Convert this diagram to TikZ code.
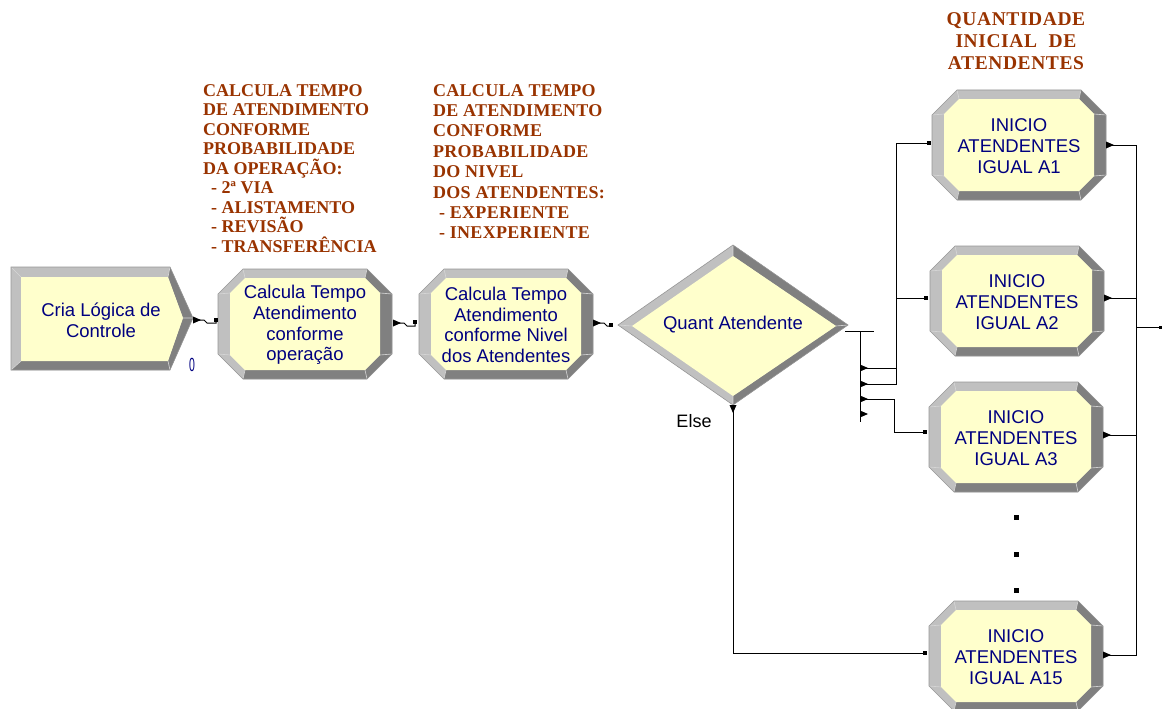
\documentclass[tikz,border=0pt]{standalone}
\usepackage{fontspec}
\setmainfont{Liberation Serif}
\newfontfamily\blockfont{Liberation Sans}
\newfontfamily\headfont[LetterSpace=3]{Liberation Serif}
\newfontfamily\notefont[LetterSpace=1.5]{Liberation Serif}
\usetikzlibrary{calc}

\definecolor{bevlight}{RGB}{192,192,192}
\definecolor{bevdark}{RGB}{128,128,128}
\definecolor{bevline}{RGB}{215,215,215}
\definecolor{bevedge}{RGB}{150,150,150}
\definecolor{blockfill}{RGB}{255,255,204}
\definecolor{navy}{RGB}{0,0,128}
\definecolor{rust}{RGB}{153,51,0}

\tikzset{
  blocktext/.style={font=\blockfont\fontsize{18.5}{20.7}\selectfont, text=navy, align=center, inner sep=0pt},
  note/.style={font=\bfseries\fontsize{18}{19.5}\selectfont, text=rust, align=left, inner sep=0pt, anchor=north west},
  conn/.style={draw=black, line width=1pt},
  facet/.style={draw=bevline, line width=0.6pt},
}

% exit point: small filled triangle pointing right
\newcommand\exitmark[1]{\fill (#1) -- ++(0,-3.5) -- ++(8,3.5) -- ++(-8,3.5) -- cycle;}
% entry point: small filled square
\newcommand\entrymark[1]{\fill ($(#1)+(-2,-2)$) rectangle ++(4,4);}
% straight link between two consecutive modules
\newcommand\joinright[2]{\exitmark{#1}\draw[conn] (#1) -- ++(11,0) -- ++(3,3) -| (#2);\entrymark{#2}}

% bevelled octagonal module (process / assign)
\newcommand\octblock[4]{%
  \begin{scope}[shift={(#2,#3)}]
    \fill[bevlight] (-87,-30) -- (-62,-55) -- (62,-55) -- (87,-30) -- (87,30) -- (62,55) -- (-62,55) -- (-87,30) -- cycle;
    \fill[bevdark] (62,-55) -- (87,-30) -- (87,30) -- (62,55) -- (-62,55)
                   -- (-60,46) -- (60,46) -- (75,31) -- (75,-31) -- (60,-46) -- cycle;
    \draw[facet] (-87,-30) -- (-75,-31) (-62,-55) -- (-60,-46) (62,-55) -- (60,-46) (87,-30) -- (75,-31)
                 (87,30) -- (75,31) (62,55) -- (60,46) (-62,55) -- (-60,46) (-87,30) -- (-75,31);
    \draw[bevedge, line width=0.6pt] (-87,-30) -- (-62,-55) -- (62,-55) -- (87,-30) -- (87,30) -- (62,55) -- (-62,55) -- (-87,30) -- cycle;
    \fill[blockfill] (-75,-31) -- (-60,-46) -- (60,-46) -- (75,-31) -- (75,31) -- (60,46) -- (-60,46) -- (-75,31) -- cycle;
  \end{scope}
  \node[blocktext] (#1) at (#2,#3+1) {#4};
}

\begin{document}
\begin{tikzpicture}[x=1pt, y=-1pt]
\useasboundingbox (0,0) rectangle (1165,709);

% ---------- create module ----------
\fill[bevlight] (11,267) -- (170,267) -- (193,318) -- (170,370) -- (11,370) -- cycle;
\fill[bevdark] (170,267) -- (193,318) -- (170,370) -- (11,370) -- (21,361) -- (168,361) -- (183,318) -- (168,277) -- cycle;
\draw[facet] (11,267) -- (21,277) (170,267) -- (168,277) (193,318) -- (183,318) (170,370) -- (168,361) (11,370) -- (21,361);
\draw[bevedge, line width=0.6pt] (11,267) -- (170,267) -- (193,318) -- (170,370) -- (11,370) -- cycle;
\fill[blockfill] (21,277) -- (168,277) -- (183,318) -- (168,361) -- (21,361) -- cycle;
\node[blocktext] (cria) at (101,320) {Cria Lógica de\\Controle};
\node[font=\blockfont\fontsize{19}{19}\selectfont, text=navy, inner sep=0pt] (cria-count) at (192,365) {\scalebox{0.55}[1]{0}};

% ---------- assign modules ----------
\octblock{calcop}{305}{324}{Calcula Tempo\\Atendimento\\conforme\\operação}
\octblock{calcniv}{506}{324}{Calcula Tempo\\Atendimento\\conforme Nivel\\dos Atendentes}

% ---------- decide module ----------
\fill[bevlight] (618,325) -- (733,245) -- (848,325) -- (733,405) -- cycle;
\fill[bevdark] (733,245) -- (848,325) -- (733,405) -- (733,396) -- (836,326) -- (733,256) -- cycle;
\draw[facet] (618,325) -- (632,326) (733,245) -- (733,256) (848,325) -- (836,326) (733,405) -- (733,396);
\draw[bevedge, line width=0.6pt] (618,325) -- (733,245) -- (848,325) -- (733,405) -- cycle;
\fill[blockfill] (632,326) -- (733,256) -- (836,326) -- (733,396) -- cycle;
\node[blocktext] (dec) at (733,325) {Quant Atendente};
\node[font=\blockfont\fontsize{18}{18}\selectfont, inner sep=0pt] (elselbl) at (694,421) {Else};

% ---------- initial staff modules ----------
\octblock{ini1}{1019}{145}{INICIO\\ATENDENTES\\IGUAL A1}
\octblock{ini2}{1017}{301}{INICIO\\ATENDENTES\\IGUAL A2}
\octblock{ini3}{1016}{437}{INICIO\\ATENDENTES\\IGUAL A3}
\octblock{ini15}{1016}{656}{INICIO\\ATENDENTES\\IGUAL A15}

% vertical ellipsis between the modules
\foreach \yy in {517,554,590} \fill (1013.5,\yy-2.5) rectangle ++(5,5);

% ---------- connection points ----------
\coordinate (cria-out) at (193,320);
\coordinate (calcop-in) at (216,320);
\coordinate (calcop-out) at (393,323);
\coordinate (calcniv-in) at (415,322);
\coordinate (calcniv-out) at (593,323);
\coordinate (dec-in) at (611,325);
\coordinate (dec-else) at (733,405);
\coordinate (dx1) at (860,368);
\coordinate (dx2) at (860,384);
\coordinate (dx3) at (860,399);
\coordinate (dx4) at (860,414);
\coordinate (ini1-in) at (929,143);
\coordinate (ini2-in) at (926,298);
\coordinate (ini3-in) at (925,432);
\coordinate (ini15-in) at (925,653);
\coordinate (ini1-out) at (1106,145);
\coordinate (ini2-out) at (1104,298);
\coordinate (ini3-out) at (1103,435);
\coordinate (ini15-out) at (1103,655);
\coordinate (merge) at (1136,327);
\coordinate (next-in) at (1160,327);

% ---------- connectors ----------
\joinright{cria-out}{calcop-in}
\joinright{calcop-out}{calcniv-in}
\joinright{calcniv-out}{dec-in}

% decide exits
\draw[conn] (845,331) -- (874,331);
\draw[conn] (860,331) -- (860,422);
\foreach \p in {dx1,dx2,dx3,dx4} {\exitmark{\p}}
\draw[conn] (dx1) -- ++(36,0) |- (ini1-in);
\draw[conn] (dx2) -- ++(36,0) |- (ini2-in);
\draw[conn] (dx3) -- ++(34,0) |- (ini3-in);
\entrymark{ini1-in}\entrymark{ini2-in}\entrymark{ini3-in}\entrymark{ini15-in}

% else branch
\fill (dec-else) ++(-3.5,0) -- ++(7,0) -- ++(-3.5,8) -- cycle;
\draw[conn] (dec-else) |- (ini15-in);

% outputs of the initial staff modules
\foreach \p in {ini1-out,ini2-out,ini3-out,ini15-out} {\exitmark{\p}\draw[conn] (\p) -| (merge);}
\draw[conn] (merge) -- (next-in);
\fill ($(next-in)+(-1.5,-1.5)$) rectangle ++(3,3);

% ---------- annotations ----------
\node[note] (note-op) at (203,84) {CALCULA TEMPO\\DE ATENDIMENTO\\CONFORME\\PROBABILIDADE\\DA OPERAÇÃO:\\\hspace*{8pt}- 2ª VIA\\\hspace*{8pt}- ALISTAMENTO\\\hspace*{8pt}- REVISÃO\\\hspace*{8pt}- TRANSFERÊNCIA};
\node[note, font=\notefont\bfseries\fontsize{18}{20.4}\selectfont] (note-niv) at (433,84) {CALCULA TEMPO\\DE ATENDIMENTO\\CONFORME\\PROBABILIDADE\\DO NIVEL\\DOS ATENDENTES:\\\hspace*{6pt}- EXPERIENTE\\\hspace*{6pt}- INEXPERIENTE};
\node[font=\headfont\bfseries\fontsize{19.5}{22}\selectfont, text=rust, align=center, inner sep=0pt, anchor=north] (note-qtd) at (1016,12) {QUANTIDADE\\INICIAL\hspace{0.6em}DE\\ATENDENTES};
\end{tikzpicture}
\end{document}
